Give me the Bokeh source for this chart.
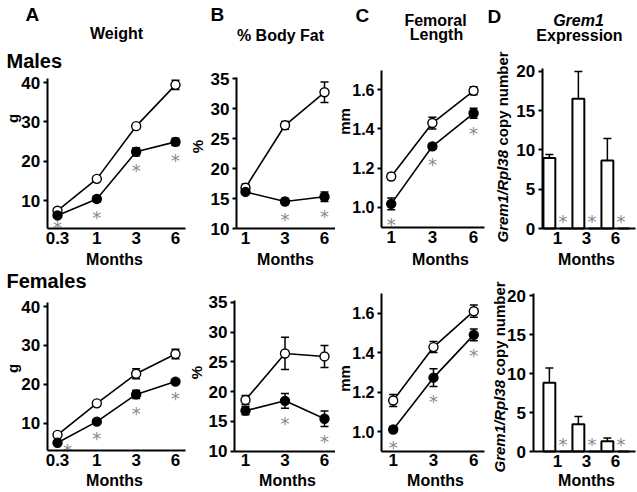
import math
from bokeh.plotting import figure
from bokeh.models import (Range1d, FixedTicker, Label, Whisker, TeeHead, ColumnDataSource,
                          PrintfTickFormatter, LinearAxis)
from bokeh.layouts import row, column
from bokeh.embed import file_html
from bokeh.resources import INLINE
from bokeh.core.properties import value

# ---------------- data ----------------
weight_months = ["0.3", "1", "3", "6"]
months = ["1", "3", "6"]

weight_ticks = [10, 20, 30, 40]
fat_ticks = [10, 15, 20, 25, 30, 35]
femur_ticks = [1.0, 1.2, 1.4, 1.6]
grem1_ticks = [0, 5, 10, 15, 20]

# Males (open = control, filled = mutant)
m_weight_open = [7.4, 15.5, 28.9, 39.4]
m_weight_open_err = [0.5, 0.6, 0.6, 1.2]
m_weight_filled = [6.2, 10.4, 22.4, 24.9]
m_weight_filled_err = [0.3, 0.8, 1.0, 0.9]
m_weight_sig = ["0.3", "1", "3", "6"]

m_fat_open = [16.8, 27.2, 32.7]
m_fat_open_err = [0.6, 0.65, 1.7]
m_fat_filled = [16.1, 14.5, 15.3]
m_fat_filled_err = [0.4, 0.5, 0.8]
m_fat_sig = ["3", "6"]

m_femur_open = [1.157, 1.430, 1.595]
m_femur_open_err = [0.015, 0.03, 0.02]
m_femur_filled = [1.017, 1.311, 1.480]
m_femur_filled_err = [0.03, 0.015, 0.025]
m_femur_sig = ["1", "3", "6"]

m_grem1_open = [8.95, 16.5, 8.65]
m_grem1_open_err = [0.45, 3.45, 2.8]
m_grem1_filled = [0.0, 0.0, 0.0]
m_grem1_sig = ["1", "3", "6"]

# Females
f_weight_open = [7.0, 15.1, 22.7, 27.8]
f_weight_open_err = [0.4, 0.6, 1.3, 1.2]
f_weight_filled = [4.96, 10.4, 17.4, 20.7]
f_weight_filled_err = [0.4, 0.5, 1.05, 0.5]
f_weight_sig = ["0.3", "1", "3", "6"]

f_fat_open = [18.6, 26.4, 25.9]
f_fat_open_err = [0.75, 2.7, 1.85]
f_fat_filled = [16.8, 18.45, 15.45]
f_fat_filled_err = [0.7, 1.25, 1.3]
f_fat_sig = ["3", "6"]

f_femur_open = [1.157, 1.428, 1.61]
f_femur_open_err = [0.03, 0.028, 0.031]
f_femur_filled = [1.010, 1.273, 1.49]
f_femur_filled_err = [0.015, 0.045, 0.03]
f_femur_sig = ["1", "3", "6"]

f_grem1_open = [8.8, 3.5, 1.3]
f_grem1_open_err = [1.9, 1.0, 0.43]
f_grem1_filled = [0.0, 0.0, 0.0]
f_grem1_sig = ["1", "3", "6"]

# ---------------- layout / style ----------------
FONT = "Liberation Sans"
STAR_FONT = "DejaVu Sans"
STAR_COLOR = "#8a8a8a"
COL_LEFT = [0, 187, 335, 486]
COL_W = [187, 148, 151, 151]
ROW_TOP = [0, 268]
ROW_H = [268, 224]


def style_axis(ax, size="17px"):
    ax.axis_line_width = 2
    ax.axis_line_color = "black"
    ax.major_label_text_font = FONT
    ax.major_label_text_font_style = "bold"
    ax.major_label_text_font_size = size
    ax.major_label_text_color = "black"
    ax.minor_tick_line_color = None


def make_fig(col, rw, ax, bx, ay, by, left, bottom, right, top, xlabels, yticks, yfmt=None,
             ysize="17px"):
    """Figure covering a whole cell; pixel mapping px = ax + bx*x, py = ay - by*y."""
    gl, gt, w, h = COL_LEFT[col], ROW_TOP[rw], COL_W[col], ROW_H[rw]
    xr = Range1d((gl - ax) / bx, (gl + w - ax) / bx)
    yr = Range1d((ay - (gt + h)) / by, (ay - gt) / by)
    p = figure(width=w, height=h, x_range=xr, y_range=yr, x_axis_type=None, y_axis_type=None,
               min_border=0, toolbar_location=None, tools="", output_backend="svg", title=None)
    p.outline_line_color = None
    p.background_fill_color = "white"
    p.border_fill_color = "white"
    x_lo, x_hi = (left - ax) / bx, (right - ax) / bx
    y_lo, y_hi = (ay - bottom) / by, (ay - top) / by
    yaxis = LinearAxis(fixed_location=x_lo, bounds=(y_lo, y_hi), ticker=FixedTicker(ticks=yticks))
    style_axis(yaxis, ysize)
    yaxis.major_tick_out = 4
    yaxis.major_tick_in = 0
    yaxis.major_tick_line_width = 2
    yaxis.major_label_standoff = 3
    if yfmt:
        yaxis.formatter = PrintfTickFormatter(format=yfmt)
    xaxis = LinearAxis(fixed_location=y_lo, bounds=(x_lo, x_hi),
                       ticker=FixedTicker(ticks=list(range(len(xlabels)))))
    style_axis(xaxis)
    xaxis.major_label_overrides = {i: s for i, s in enumerate(xlabels)}
    xaxis.major_tick_line_color = None
    xaxis.major_tick_out = 0
    xaxis.major_tick_in = 0
    xaxis.major_label_standoff = 3
    p.add_layout(yaxis, "left")
    p.add_layout(xaxis, "below")
    return p, (gl, gt + h)


def add_text(p, org, X, Y, text, size=16, style="bold", align="left", angle=0.0):
    """Y is the text baseline for horizontal text, the centre line for rotated text."""
    ox, oy = org
    ymid = Y if angle else Y - 0.35 * size
    p.add_layout(Label(x=X - ox, y=oy - ymid, x_units="screen", y_units="screen",
                       text=text, text_font=FONT, text_font_size=f"{size}px",
                       text_font_style=style, text_align=align,
                       text_baseline="middle", angle=angle, text_color="black"))


def whisker(p, src, base, lo, hi):
    p.add_layout(Whisker(source=src, base=base, lower=lo, upper=hi,
                         line_color="black", line_width=1.5,
                         lower_head=TeeHead(size=8, line_width=1.5, line_color="black"),
                         upper_head=TeeHead(size=8, line_width=1.5, line_color="black")))


STAR_DROP = 5  # glyph sits above its middle baseline


def line_panel(p, labels, op, op_err, fi, fi_err, sig, shifts=None):
    shifts = shifts or {}
    x = list(range(len(labels)))
    src = ColumnDataSource(dict(
        x=x, op=op, fi=fi,
        op_lo=[v - e for v, e in zip(op, op_err)], op_hi=[v + e for v, e in zip(op, op_err)],
        fi_lo=[v - e for v, e in zip(fi, fi_err)], fi_hi=[v + e for v, e in zip(fi, fi_err)]))
    p.line("x", "op", source=src, line_color="black", line_width=1.6)
    p.line("x", "fi", source=src, line_color="black", line_width=1.6)
    whisker(p, src, "x", "op_lo", "op_hi")
    whisker(p, src, "x", "fi_lo", "fi_hi")
    p.scatter("x", "op", source=src, marker="circle", size=9, fill_color="white",
              line_color="black", line_width=1.4)
    p.scatter("x", "fi", source=src, marker="circle", size=9, fill_color="black",
              line_color="black", line_width=1.4)
    sx, sy, xo, yo = [], [], [], []
    for s in sig:
        i = labels.index(s)
        sx.append(x[i])
        if s in shifts:
            dx, dy = shifts[s]
            sy.append(fi[i])
        else:
            dx, dy = 0, 10
            sy.append(fi[i] - fi_err[i])
        xo.append(dx)
        yo.append(dy + STAR_DROP)
    p.text(x=sx, y=sy, text=["*"] * len(sx), x_offset=xo, y_offset=yo,
           text_font=value(STAR_FONT), text_font_size="18px", text_color=STAR_COLOR,
           text_align="center", text_baseline="middle")


BAR_OFF = 0.28
BAR_W = 0.41
STAR_OFF = 0.19


def bar_panel(p, labels, op, op_err, fi, sig):
    x = list(range(len(labels)))
    src = ColumnDataSource(dict(
        bx=[i - BAR_OFF for i in x], kx=[i + BAR_OFF for i in x], op=op, fi=fi,
        lo=[v - e for v, e in zip(op, op_err)], hi=[v + e for v, e in zip(op, op_err)]))
    p.vbar(x="bx", top="op", bottom=0, width=BAR_W, source=src, fill_color="white",
           line_color="black", line_width=2)
    p.vbar(x="kx", top="fi", bottom=0, width=BAR_W, source=src, fill_color="white",
           line_color="black", line_width=2)
    whisker(p, src, "bx", "lo", "hi")
    sx = [labels.index(s) + STAR_OFF for s in sig]
    sy = [fi[labels.index(s)] for s in sig]
    p.text(x=sx, y=sy, text=["*"] * len(sx), y_offset=-12 + STAR_DROP,
           text_font=value(STAR_FONT), text_font_size="18px", text_color=STAR_COLOR,
           text_align="center", text_baseline="middle")


PI2 = math.pi / 2


def grem_label(p, org, X, Ybottom):
    add_text(p, org, X, Ybottom, "Grem1/Rpl38", size=15, style="bold italic", angle=PI2)
    add_text(p, org, X, Ybottom - 97, "copy number", size=15, style="bold", angle=PI2)


# ---------------- males ----------------
mA, oA = make_fig(0, 0, 57, 39.33, 239.33, 3.933, 46.7, 228, 185, 78, weight_months, weight_ticks)
line_panel(mA, weight_months, m_weight_open, m_weight_open_err, m_weight_filled,
           m_weight_filled_err, m_weight_sig, shifts={"0.3": (0, 7)})
add_text(mA, oA, 25, 21, "A", size=19)
add_text(mA, oA, 116, 39, "Weight", align="center")
add_text(mA, oA, 6, 67, "Males", size=20)
add_text(mA, oA, 12, 118, "g", size=15, align="center", angle=PI2)
add_text(mA, oA, 114, 265, "Months", align="center")

mB, oB = make_fig(1, 0, 245, 39.5, 288, 6.0, 236, 228, 334.5, 77, months, fat_ticks)
line_panel(mB, months, m_fat_open, m_fat_open_err, m_fat_filled, m_fat_filled_err, m_fat_sig)
add_text(mB, oB, 210, 21, "B", size=19)
add_text(mB, oB, 280, 41, "% Body Fat", align="center")
add_text(mB, oB, 197, 146, "%", size=15, align="center", angle=PI2)
add_text(mB, oB, 285, 265, "Months", align="center")

mC, oC = make_fig(2, 0, 390.7, 41.2, 402.4, 195.7, 381, 227, 484, 70, months, femur_ticks, "%.1f",
                  ysize="16px")
line_panel(mC, months, m_femur_open, m_femur_open_err, m_femur_filled, m_femur_filled_err, m_femur_sig)
add_text(mC, oC, 355, 22, "C", size=19)
add_text(mC, oC, 435, 26, "Femoral", align="center")
add_text(mC, oC, 436, 40, "Length", align="center")
add_text(mC, oC, 344, 121, "mm", size=15, align="center", angle=PI2)
add_text(mC, oC, 440, 265, "Months", align="center")

mD, oD = make_fig(3, 0, 557, 29, 228, 7.865, 541.7, 228, 635, 68, months, grem1_ticks)
bar_panel(mD, months, m_grem1_open, m_grem1_open_err, m_grem1_filled, m_grem1_sig)
add_text(mD, oD, 487, 23, "D", size=19)
add_text(mD, oD, 578, 26, "Grem1", style="bold italic", align="center")
add_text(mD, oD, 579, 41, "Expression", align="center")
grem_label(mD, oD, 502, 242)
add_text(mD, oD, 586, 265, "Months", align="center")

# ---------------- females ----------------
fA, pA = make_fig(0, 1, 57, 39.33, 461.6, 3.89, 46.7, 450, 185, 302, weight_months, weight_ticks)
line_panel(fA, weight_months, f_weight_open, f_weight_open_err, f_weight_filled,
           f_weight_filled_err, f_weight_sig, shifts={"0.3": (10, 3)})
add_text(fA, pA, 6, 287, "Females", size=20)
add_text(fA, pA, 12, 368, "g", size=15, align="center", angle=PI2)
add_text(fA, pA, 114, 486, "Months", align="center")

fB, pB = make_fig(1, 1, 245, 39.5, 510.3, 5.96, 234, 450.7, 334.5, 300, months, fat_ticks)
line_panel(fB, months, f_fat_open, f_fat_open_err, f_fat_filled, f_fat_filled_err, f_fat_sig)
add_text(fB, pB, 196, 372, "%", size=15, align="center", angle=PI2)
add_text(fB, pB, 287, 486, "Months", align="center")

fC, pC = make_fig(2, 1, 392.7, 40.3, 628.2, 197.2, 381, 450.7, 484, 293, months, femur_ticks, "%.1f",
                  ysize="16px")
line_panel(fC, months, f_femur_open, f_femur_open_err, f_femur_filled, f_femur_filled_err, f_femur_sig)
add_text(fC, pC, 344, 378, "mm", size=15, align="center", angle=PI2)
add_text(fC, pC, 435, 486, "Months", align="center")

fD, pD = make_fig(3, 1, 557, 29, 451, 7.8, 532.5, 451, 635, 293, months, grem1_ticks)
bar_panel(fD, months, f_grem1_open, f_grem1_open_err, f_grem1_filled, f_grem1_sig)
grem_label(fD, pD, 499, 472)
add_text(fD, pD, 586, 486, "Months", align="center")

layout = column(row(mA, mB, mC, mD), row(fA, fB, fC, fD))
open("out.html", "w").write(file_html(layout, INLINE))
